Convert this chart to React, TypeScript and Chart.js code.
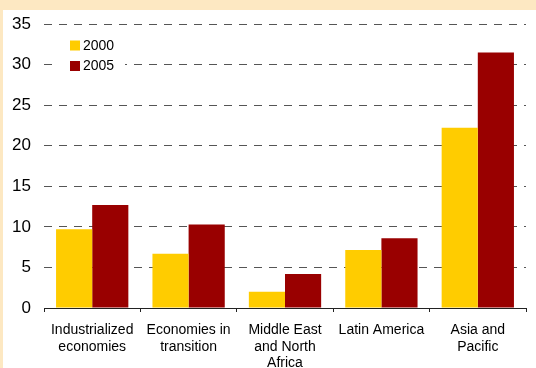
import React, { useEffect, useRef } from "react";
import { Chart, registerables } from "chart.js";

Chart.register(...registerables);

const categories: string[][] = [
  ["Industrialized", "economies"],
  ["Economies in", "transition"],
  ["Middle East", "and North", "Africa"],
  ["Latin America"],
  ["Asia and", "Pacific"],
];
const seriesNames = ["2000", "2005"];
const values2000 = [9.7, 6.7, 2.0, 7.15, 22.2];
const values2005 = [12.7, 10.3, 4.2, 8.6, 31.5];
const yTicks = [0, 5, 10, 15, 20, 25, 30, 35];

const COLORS = ["#FFCC00", "#990000"];
const FONT = "Arial, 'Liberation Sans', sans-serif";

const legendPlugin = {
  id: "insideLegend",
  afterDatasetsDraw(chart: any) {
    const ctx = chart.ctx;
    const left = chart.chartArea.left;
    const top = chart.chartArea.top;
    ctx.save();
    ctx.fillStyle = "#ffffff";
    ctx.fillRect(left + 8, top + 12, 73, 42);
    chart.data.datasets.forEach((ds: any, i: number) => {
      const cy = top + 21.5 + i * 20.5;
      ctx.fillStyle = ds.backgroundColor;
      ctx.fillRect(left + 26, cy - 5, 10, 10);
      ctx.fillStyle = "#000";
      ctx.font = `14px ${FONT}`;
      ctx.textBaseline = "middle";
      ctx.textAlign = "left";
      ctx.fillText(ds.label, left + 39, cy + 0.5);
    });
    ctx.restore();
  },
};

export default function App() {
  const ref = useRef<HTMLCanvasElement>(null);
  useEffect(() => {
    if (!ref.current) return;
    const chart = new Chart(ref.current, {
      type: "bar",
      data: {
        labels: categories,
        datasets: [
          {
            label: seriesNames[0],
            data: values2000,
            backgroundColor: COLORS[0],
            barPercentage: 1,
            categoryPercentage: 0.75,
          },
          {
            label: seriesNames[1],
            data: values2005,
            backgroundColor: COLORS[1],
            barPercentage: 1,
            categoryPercentage: 0.75,
          },
        ],
      },
      options: {
        animation: false,
        responsive: false,
        maintainAspectRatio: false,
        layout: { padding: { top: 14, right: 10, left: 0, bottom: 0 } },
        plugins: {
          legend: { display: false },
          tooltip: { enabled: false },
        },
        scales: {
          x: {
            offset: true,
            grid: {
              offset: true,
              drawOnChartArea: false,
              drawTicks: true,
              tickLength: 4,
              color: "#222",
            },
            border: { display: true, color: "#222", width: 1 },
            ticks: {
              color: "#000",
              font: { family: FONT, size: 14, lineHeight: 1.18 },
              padding: 10,
              maxRotation: 0,
              autoSkip: false,
            },
            afterFit: (s: any) => {
              s.height = 60;
              s.paddingTop = 0;
              s.paddingBottom = 0;
            },
          },
          y: {
            min: 0,
            max: 35,
            afterBuildTicks: (s: any) => {
              s.ticks = yTicks.map((v) => ({ value: v }));
            },
            grid: {
              color: "#555",
              lineWidth: 1,
              drawTicks: false,
            },
            border: { display: false, dash: [8, 7] },
            ticks: {
              color: "#000",
              font: { family: FONT, size: 17 },
              padding: 13,
            },
            afterFit: (s: any) => {
              s.width = 41;
              s.paddingTop = 0;
              s.paddingBottom = 0;
            },
          },
        },
      },
      plugins: [legendPlugin],
    });
    return () => chart.destroy();
  }, []);

  return (
    <div style={{ position: "fixed", left: 0, top: 0, width: 536, height: 368, background: "#FDE8C2", overflow: "hidden" }}>
      <div style={{ position: "absolute", left: 3, top: 10, width: 533, height: 358, background: "#fff" }}>
        <canvas ref={ref} width={533} height={358} style={{ display: "block", width: 533, height: 358 }} />
      </div>
    </div>
  );
}
